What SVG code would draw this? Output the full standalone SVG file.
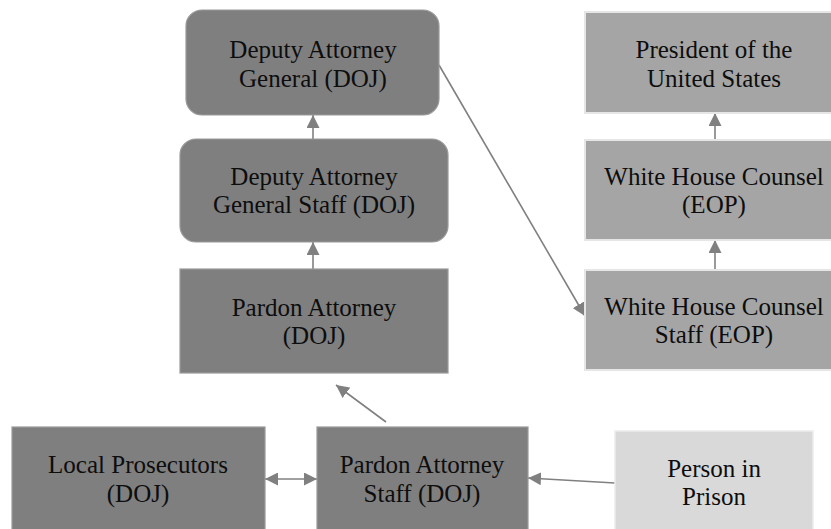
<svg xmlns="http://www.w3.org/2000/svg" width="831" height="529" viewBox="0 0 831 529">
<defs>
<style>
.dark{fill:#7f7f7f;stroke:#9a9a9a;stroke-width:1.2}
.mid{fill:#a5a5a5;stroke:#e6e6e6;stroke-width:2}
.light{fill:#d9d9d9;stroke:#ececec;stroke-width:1.5}
.t{font-family:'Liberation Serif','Times New Roman',serif;font-size:25px;fill:#0d0d0d;text-anchor:middle}
.c{stroke:#808080;stroke-width:1.6;fill:none;marker-end:url(#ah)}
.c2{stroke:#808080;stroke-width:1.6;fill:none;marker-end:url(#ah);marker-start:url(#ah)}
</style>
<marker id="ah" markerUnits="userSpaceOnUse" markerWidth="13" markerHeight="13" viewBox="0 0 13 13" refX="13" refY="6.5" orient="auto-start-reverse">
<path d="M0,0 L13,6.5 L0,13 z" fill="#808080"/>
</marker>
</defs>
<rect width="831" height="529" fill="#ffffff"/>
<g id="connectors">
<line class="c" x1="313" y1="139" x2="313" y2="115"/>
<line class="c" x1="313" y1="269" x2="313" y2="242"/>
<line class="c" x1="439" y1="65" x2="585" y2="316"/>
<line class="c" x1="715" y1="140" x2="715" y2="113"/>
<line class="c" x1="715" y1="270" x2="715" y2="240"/>
<line class="c" x1="386" y1="422" x2="336" y2="385"/>
<line class="c2" x1="265" y1="479" x2="317" y2="479"/>
<line class="c" x1="615" y1="483" x2="528" y2="478"/>
</g>
<g id="dag">
<rect class="dark" x="186" y="10" width="253" height="105" rx="16"/>
<text class="t" x="313" y="58">Deputy Attorney</text>
<text class="t" x="313" y="87">General (DOJ)</text>
</g>
<g id="dag-staff">
<rect class="dark" x="180" y="139" width="268" height="103" rx="16"/>
<text class="t" x="314" y="185">Deputy Attorney</text>
<text class="t" x="314" y="213">General Staff (DOJ)</text>
</g>
<g id="pardon-attorney">
<rect class="dark" x="180" y="269" width="268" height="104"/>
<text class="t" x="314" y="316">Pardon Attorney</text>
<text class="t" x="314" y="344">(DOJ)</text>
</g>
<g id="president">
<rect class="mid" x="585" y="12" width="262" height="101"/>
<text class="t" x="714" y="58">President of the</text>
<text class="t" x="714" y="87">United States</text>
</g>
<g id="whc">
<rect class="mid" x="585" y="140" width="262" height="100"/>
<text class="t" x="714" y="185">White House Counsel</text>
<text class="t" x="714" y="213">(EOP)</text>
</g>
<g id="whc-staff">
<rect class="mid" x="585" y="270" width="262" height="100"/>
<text class="t" x="714" y="315">White House Counsel</text>
<text class="t" x="714" y="343">Staff (EOP)</text>
</g>
<g id="local-prosecutors">
<rect class="dark" x="12" y="427" width="253" height="110"/>
<text class="t" x="138" y="473">Local Prosecutors</text>
<text class="t" x="138" y="502">(DOJ)</text>
</g>
<g id="pardon-attorney-staff">
<rect class="dark" x="317" y="427" width="211" height="110"/>
<text class="t" x="422" y="473">Pardon Attorney</text>
<text class="t" x="422" y="502">Staff (DOJ)</text>
</g>
<g id="person-in-prison">
<rect class="light" x="615" y="431" width="198" height="106"/>
<text class="t" x="714" y="477">Person in</text>
<text class="t" x="714" y="505">Prison</text>
</g>
</svg>
